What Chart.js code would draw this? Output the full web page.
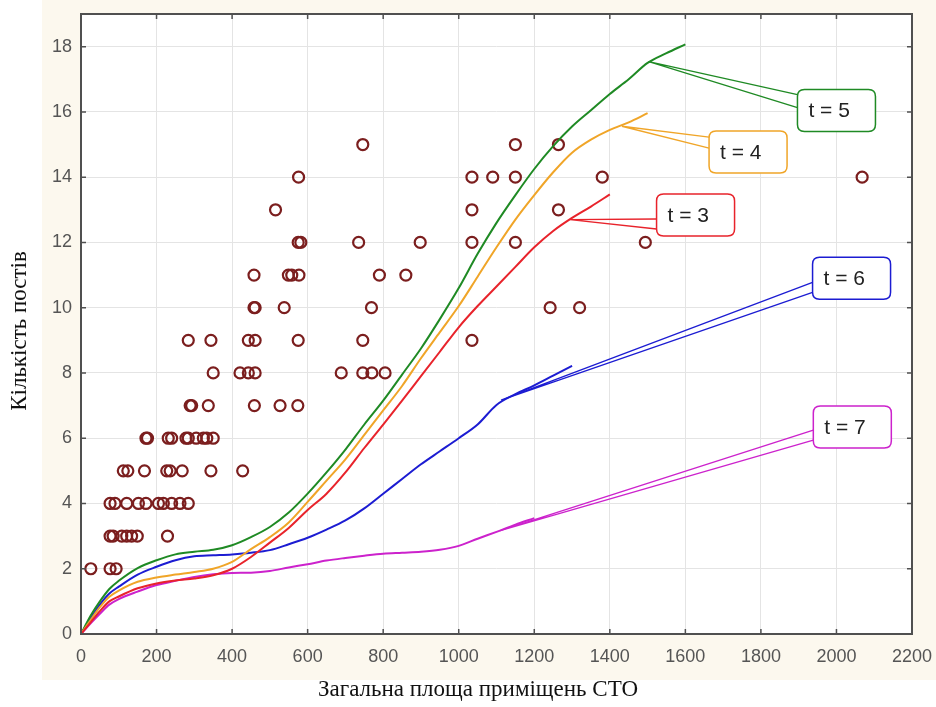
<!DOCTYPE html>
<html>
<head>
<meta charset="utf-8">
<title>Кількість постів СТО</title>
<script src="https://cdn.jsdelivr.net/npm/chart.js@4.4.1/dist/chart.umd.min.js"></script>
<style>
  html, body { margin: 0; padding: 0; background: #fff; }
  #wrap { width: 936px; height: 707px; }
</style>
</head>
<body>
<div id="wrap"><canvas id="chart" width="936" height="707"></canvas></div>
<script>
// Обстежені СТО: загальна площа приміщень і кількість постів
var areaX = [
  26, 77, 93,
  77, 85, 108, 121, 134, 149, 229,
  77, 90, 121, 152, 172, 205, 218, 240, 262, 284,
  112, 124, 168, 227, 236, 268, 344, 428,
  172, 176, 231, 240, 278, 284, 305, 324, 333, 350,
  289, 293, 337, 459, 527, 574,
  350, 421, 443, 461, 689, 746, 770, 805,
  284, 344, 443, 461, 575, 746, 1035,
  458, 461, 538, 769, 1242, 1320,
  458, 549, 558, 577, 790, 860,
  575, 582, 735, 898, 1035, 1150, 1494,
  515, 1035, 1264,
  576, 1035, 1090, 1150, 1380, 2068,
  746, 1150, 1264
];
var postsY = [
  2, 2, 2,
  3, 3, 3, 3, 3, 3, 3,
  4, 4, 4, 4, 4, 4, 4, 4, 4, 4,
  5, 5, 5, 5, 5, 5, 5, 5,
  6, 6, 6, 6, 6, 6, 6, 6, 6, 6,
  7, 7, 7, 7, 7, 7,
  8, 8, 8, 8, 8, 8, 8, 8,
  9, 9, 9, 9, 9, 9, 9,
  10, 10, 10, 10, 10, 10,
  11, 11, 11, 11, 11, 11,
  12, 12, 12, 12, 12, 12, 12,
  13, 13, 13,
  14, 14, 14, 14, 14, 14,
  15, 15, 15
];

// Модельні криві для різних t (аргумент - площа)
var curveX = [0, 25, 50, 75, 100, 150, 200, 250, 300, 350, 400, 450, 500, 550, 600,
  650, 700, 750, 800, 850, 900, 950, 1000, 1050, 1100, 1150, 1200, 1250, 1300,
  1350, 1400, 1450, 1500, 1550, 1600];
var curveT3 = [0, 0.35, 0.7, 1.0, 1.15, 1.4, 1.55, 1.64, 1.7, 1.8, 2.0, 2.36, 2.8, 3.25,
  3.8, 4.3, 4.95, 5.7, 6.42, 7.15, 7.9, 8.65, 9.4, 10.05, 10.65, 11.25, 11.85, 12.35,
  12.75, 13.1, 13.47];
var curveT4 = [0, 0.42, 0.82, 1.14, 1.33, 1.6, 1.73, 1.82, 1.9, 2.0, 2.21, 2.6, 2.97, 3.42,
  4.05, 4.7, 5.35, 6.1, 6.85, 7.6, 8.45, 9.25, 10.05, 10.95, 11.85, 12.7, 13.45, 14.15,
  14.75, 15.15, 15.45, 15.68, 15.96];
var curveT5 = [0, 0.55, 1.0, 1.38, 1.63, 2.02, 2.26, 2.44, 2.52, 2.58, 2.72, 2.97, 3.28,
  3.72, 4.3, 4.95, 5.65, 6.42, 7.15, 7.95, 8.75, 9.65, 10.6, 11.65, 12.6, 13.45, 14.25,
  14.95, 15.55, 16.05, 16.55, 17.0, 17.5, 17.8, 18.07];
var curveT6 = [0, 0.47, 0.9, 1.24, 1.45, 1.82, 2.06, 2.26, 2.38, 2.41, 2.44, 2.49, 2.57,
  2.75, 2.95, 3.2, 3.48, 3.85, 4.3, 4.75, 5.2, 5.6, 6.0, 6.42, 7.02, 7.35, 7.62, 7.92, 8.22];
var curveT7 = [0, 0.32, 0.62, 0.9, 1.07, 1.3, 1.5, 1.63, 1.75, 1.83, 1.87, 1.88, 1.93,
  2.04, 2.14, 2.25, 2.33, 2.4, 2.46, 2.49, 2.52, 2.58, 2.7, 2.92, 3.13, 3.35, 3.55];

var seriesNames = ['t = 3', 't = 4', 't = 5', 't = 6', 't = 7'];
var xTicks = [0, 200, 400, 600, 800, 1000, 1200, 1400, 1600, 1800, 2000, 2200];
var yTicks = [0, 2, 4, 6, 8, 10, 12, 14, 16, 18];

var colors = ['#e8232b', '#f0a528', '#1f8a24', '#1c1cd2', '#cc22cc'];

// підписи-виноски: точка на кривій (tip) і центр рамки (box), у значеннях осей
var callouts = [
  { tip: [1295, 12.7], box: [1627, 12.84], ends: [25, 35] },
  { tip: [1432, 15.56], box: [1766, 14.77], ends: [6, 17] },
  { tip: [1503, 17.54], box: [2000, 16.04], ends: [5, 18] },
  { tip: [1112, 7.17], box: [2040, 10.9], ends: [25, 35] },
  { tip: [1110, 3.17], box: [2042, 6.34], ends: [24, 34] }
];

function toPoints(xs, ys) {
  var pts = [];
  for (var i = 0; i < ys.length; i++) pts.push({ x: xs[i], y: ys[i] });
  return pts;
}

var curves = [curveT3, curveT4, curveT5, curveT6, curveT7];
var datasets = curves.map(function (vals, i) {
  return {
    type: 'line',
    label: seriesNames[i],
    data: toPoints(curveX, vals),
    borderColor: colors[i],
    borderWidth: 2,
    pointRadius: 0,
    fill: false,
    cubicInterpolationMode: 'monotone'
  };
});
datasets.push({
  type: 'scatter',
  label: 'СТО',
  data: toPoints(areaX, postsY),
  pointRadius: 5.5,
  pointBorderWidth: 2.2,
  pointBorderColor: '#7b1e1e',
  pointBackgroundColor: 'rgba(0,0,0,0)',
  showLine: false
});

function roundRect(ctx, x, y, w, h, r) {
  ctx.beginPath();
  ctx.moveTo(x + r, y);
  ctx.lineTo(x + w - r, y);
  ctx.quadraticCurveTo(x + w, y, x + w, y + r);
  ctx.lineTo(x + w, y + h - r);
  ctx.quadraticCurveTo(x + w, y + h, x + w - r, y + h);
  ctx.lineTo(x + r, y + h);
  ctx.quadraticCurveTo(x, y + h, x, y + h - r);
  ctx.lineTo(x, y + r);
  ctx.quadraticCurveTo(x, y, x + r, y);
  ctx.closePath();
}

var framePlugin = {
  id: 'frame',
  beforeDraw: function (chart) {
    var ctx = chart.ctx, a = chart.chartArea;
    ctx.save();
    ctx.fillStyle = '#fcf8ee';
    ctx.fillRect(42, 0, chart.width - 42, 680);
    ctx.fillStyle = '#ffffff';
    ctx.fillRect(a.left, a.top, a.right - a.left, a.bottom - a.top);
    ctx.restore();
  },
  afterDatasetsDraw: function (chart) {
    var ctx = chart.ctx, a = chart.chartArea;
    var xs = chart.scales.x, ys = chart.scales.y;
    ctx.save();

    // рамка і внутрішні штрихи
    ctx.strokeStyle = '#505050';
    ctx.lineWidth = 2;
    ctx.strokeRect(a.left, a.top, a.right - a.left, a.bottom - a.top);
    ctx.lineWidth = 1.5;
    ctx.beginPath();
    xTicks.forEach(function (v) {
      var px = xs.getPixelForValue(v);
      ctx.moveTo(px, a.top); ctx.lineTo(px, a.top + 5);
      ctx.moveTo(px, a.bottom); ctx.lineTo(px, a.bottom - 5);
    });
    yTicks.forEach(function (v) {
      var py = ys.getPixelForValue(v);
      ctx.moveTo(a.left, py); ctx.lineTo(a.left + 5, py);
      ctx.moveTo(a.right, py); ctx.lineTo(a.right - 5, py);
    });
    ctx.stroke();

    // виноски t = ...
    var bw = 78, bh = 42;
    callouts.forEach(function (c, i) {
      var tx = xs.getPixelForValue(c.tip[0]), ty = ys.getPixelForValue(c.tip[1]);
      var cx = xs.getPixelForValue(c.box[0]), cy = ys.getPixelForValue(c.box[1]);
      var left = cx - bw / 2, top = cy - bh / 2;
      ctx.strokeStyle = colors[i];
      ctx.lineWidth = 1.3;
      ctx.beginPath();
      ctx.moveTo(tx, ty); ctx.lineTo(left, top + c.ends[0]);
      ctx.moveTo(tx, ty); ctx.lineTo(left, top + c.ends[1]);
      ctx.stroke();
      roundRect(ctx, left, top, bw, bh, 7);
      ctx.fillStyle = '#ffffff';
      ctx.fill();
      ctx.lineWidth = 1.5;
      ctx.stroke();
      ctx.fillStyle = '#222';
      ctx.font = '21px "Liberation Sans", Arial, sans-serif';
      ctx.textAlign = 'left';
      ctx.textBaseline = 'middle';
      ctx.fillText(seriesNames[i], left + 11, cy + 1);
    });

    // назви осей
    ctx.fillStyle = '#111';
    ctx.font = '23px "Liberation Serif", "Times New Roman", serif';
    ctx.textAlign = 'center';
    ctx.textBaseline = 'middle';
    ctx.fillText('Загальна площа приміщень СТО', 478, 690);
    ctx.translate(20, 331);
    ctx.rotate(-Math.PI / 2);
    ctx.fillText('Кількість постів', 0, 0);
    ctx.restore();
  }
};

var tickFont = { family: '"Liberation Sans", Arial, sans-serif', size: 18 };
function plainLabel(v) { return String(v); }

new Chart(document.getElementById('chart').getContext('2d'), {
  data: { datasets: datasets },
  plugins: [framePlugin],
  options: {
    responsive: false,
    animation: false,
    layout: { padding: { left: 0, right: 24, top: 14, bottom: 0 } },
    plugins: {
      legend: { display: false },
      tooltip: { enabled: false }
    },
    scales: {
      x: {
        type: 'linear',
        min: 0,
        max: 2200,
        afterBuildTicks: function (s) { s.ticks = xTicks.map(function (v) { return { value: v }; }); },
        afterFit: function (s) { s.height = 73; s.paddingLeft = 0; s.paddingRight = 0; },
        ticks: { font: tickFont, color: '#555', padding: 12, maxRotation: 0, autoSkip: false, callback: plainLabel },
        grid: { color: '#e4e4e4', drawTicks: false },
        border: { display: false }
      },
      y: {
        type: 'linear',
        min: 0,
        max: 19,
        afterBuildTicks: function (s) { s.ticks = yTicks.map(function (v) { return { value: v }; }); },
        afterFit: function (s) { s.width = 81; s.paddingTop = 0; s.paddingBottom = 0; },
        ticks: { font: tickFont, color: '#555', padding: 9, autoSkip: false, callback: plainLabel },
        grid: { color: '#e4e4e4', drawTicks: false },
        border: { display: false }
      }
    }
  }
});
</script>
</body>
</html>
